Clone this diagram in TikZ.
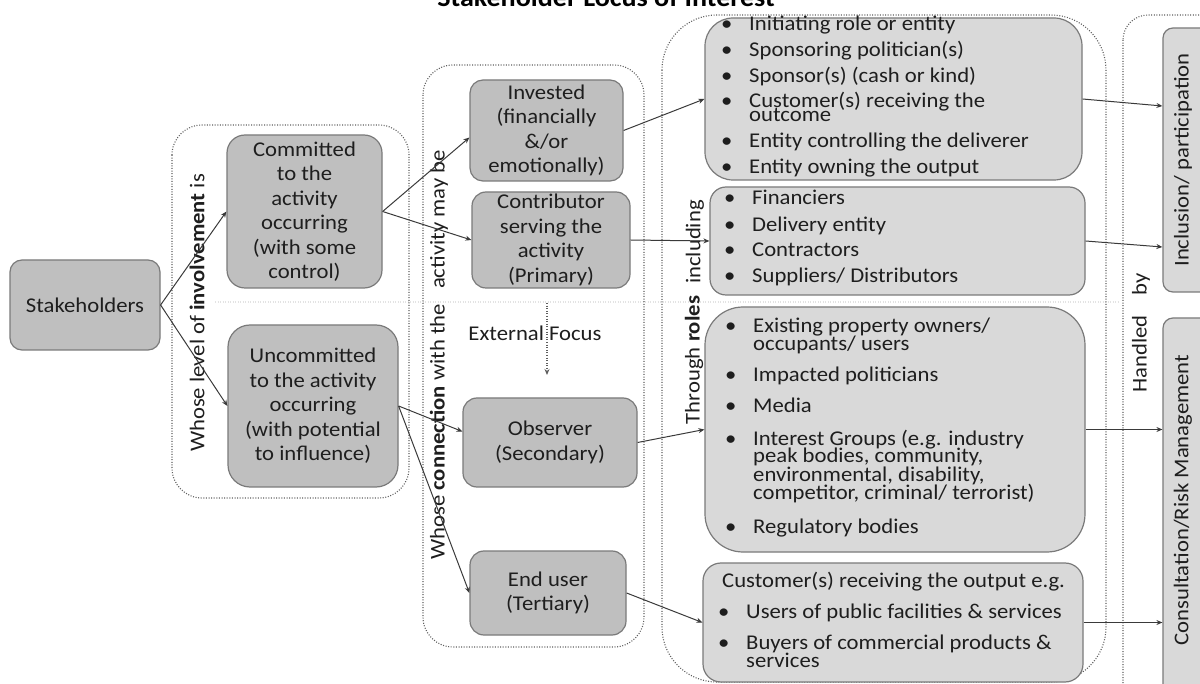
\documentclass[tikz,border=0pt]{standalone}
\usepackage{fontspec}
\setmainfont{Carlito}[FakeStretch=1.08]
\usetikzlibrary{arrows.meta,calc}
\definecolor{dboxfill}{HTML}{BFBFBF}
\definecolor{lboxfill}{HTML}{D9D9D9}
\definecolor{edgegray}{HTML}{7A7A7A}
\definecolor{txt}{HTML}{1E1E1E}
\definecolor{dotgray}{HTML}{5E5E5E}
\definecolor{linegray}{HTML}{3A3A3A}
\begin{document}
\begin{tikzpicture}[x=1pt,y=-1pt,
  every node/.style={font=\fontsize{21}{24.5}\selectfont, text=txt, inner sep=0pt},
  dbox/.style={draw=edgegray, fill=dboxfill, line width=1.2pt, rounded corners=#1, align=center},
  dbox/.default=14pt,
  lbox/.style={draw=edgegray, fill=lboxfill, line width=1.2pt, rounded corners=#1},
  lbox/.default=18pt,
  dotgroup/.style={draw=dotgray, line width=1.1pt, dash pattern=on 1pt off 1.6pt},
  conn/.style={draw=linegray, line width=1pt, -{Stealth[length=6pt,width=5pt]}},
  itm/.style={anchor=base west},
  vlabel/.style={rotate=90, anchor=center},
]
\useasboundingbox (0,0) rectangle (1200,684);

% title (cropped at top, as in the reference)
\node[font=\fontsize{26}{30}\selectfont\bfseries, text=black, anchor=base] (title) at (606,7) {Stakeholder Locus of Interest};

% faint guide line
\draw[gray!22, line width=1.3pt, dash pattern=on 1pt off 1.5pt] (215,302) -- (1120,302);

% dotted groups
\draw[dotgroup, rounded corners=30pt] (172,125) rectangle (409,498);
\draw[dotgroup, rounded corners=30pt] (423,65) rectangle (644,647);
\draw[dotgroup, rounded corners=55pt] (662,15) rectangle (1106,682);
\draw[dotgroup, rounded corners=25pt] (1123,15) rectangle (1240,720);

% group labels
\node[vlabel] (lvl) at (197,313) {Whose level of \textbf{involvement} is};
\node[vlabel] (cnx) at (439,355) {Whose \textbf{connection} with the\hspace{15pt}activity may be};
\node[vlabel] (incl) at (695,242) {including};
\node[vlabel] (thr) at (694,360) {Through \textbf{roles}};
\node[vlabel] (hby) at (1141,333) {Handled\hspace{20pt}by};

% left boxes
\node[dbox=12pt, minimum width=150pt, minimum height=90pt] (stake) at (85,305) {Stakeholders};
\node[dbox=18pt, minimum width=155pt, minimum height=153pt] (com) at (304.5,211.5) {Committed\\to the\\activity\\occurring\\(with some\\control)};
\node[dbox=22pt, minimum width=170pt, minimum height=162pt] (unc) at (313,406) {Uncommitted\\to the activity\\occurring\\(with potential\\to influence)};

% middle boxes
\node[dbox=13pt, minimum width=153pt, minimum height=101pt] (inv) at (546.5,130.5) {Invested\\(financially\\\&/or\\emotionally)};
\node[dbox=14pt, minimum width=158pt, minimum height=96pt] (ctb) at (551,240) {Contributor\\serving the\\activity\\(Primary)};
\node[dbox=14pt, minimum width=174pt, minimum height=89pt] (obs) at (550,442.5) {Observer\\(Secondary)};
\node[dbox=14pt, minimum width=156pt, minimum height=84pt] (end) at (548,593) {End user\\(Tertiary)};

% external focus
\coordinate (ef1) at (547,303);
\coordinate (ef2) at (547,375);
\draw[dotgroup, -{Stealth[length=6pt,width=5pt]}] (ef1) -- (ef2);
\node (ext) at (535,333) {External Focus};

% right list boxes
\node[lbox=28pt, minimum width=377pt, minimum height=162pt] (boxA) at (893.5,99) {};
\node[lbox=16pt, minimum width=375pt, minimum height=108pt] (boxB) at (897.5,241) {};
\node[lbox=38pt, minimum width=380pt, minimum height=245pt] (boxC) at (895,429.5) {};
\node[lbox=18pt, minimum width=380pt, minimum height=119pt] (boxD) at (893,622.5) {};

% far right boxes
\node[lbox=10pt, minimum width=52pt, minimum height=264pt] (inc) at (1189,160) {};
\node[lbox=10pt, minimum width=52pt, minimum height=392pt] (cons) at (1189,514) {};
\node[vlabel] (incT) at (1183,160) {Inclusion/ participation};
\node[vlabel] (consT) at (1183,500) {Consultation/Risk Management};

% list A
\node[itm] (a1) at (721,31) {\makebox[28pt][l]{\textbullet}Initiating role or entity};
\node[itm] (a2) at (721,57) {\makebox[28pt][l]{\textbullet}Sponsoring politician(s)};
\node[itm] (a3) at (721,83) {\makebox[28pt][l]{\textbullet}Sponsor(s) (cash or kind)};
\node[itm] (a4) at (721,108) {\makebox[28pt][l]{\textbullet}Customer(s) receiving the};
\node[itm] (a4b) at (749,122) {outcome};
\node[itm] (a5) at (721,148) {\makebox[28pt][l]{\textbullet}Entity controlling the deliverer};
\node[itm] (a6) at (721,174) {\makebox[28pt][l]{\textbullet}Entity owning the output};

% list B
\node[itm] (b1) at (724,205) {\makebox[28pt][l]{\textbullet}Financiers};
\node[itm] (b2) at (724,232) {\makebox[28pt][l]{\textbullet}Delivery entity};
\node[itm] (b3) at (724,257) {\makebox[28pt][l]{\textbullet}Contractors};
\node[itm] (b4) at (724,283) {\makebox[28pt][l]{\textbullet}Suppliers/ Distributors};

% list C
\node[itm] (c1) at (725,333) {\makebox[28pt][l]{\textbullet}Existing property owners/};
\node[itm] (c1b) at (753,351) {occupants/ users};
\node[itm] (c2) at (725,382) {\makebox[28pt][l]{\textbullet}Impacted politicians};
\node[itm] (c3) at (725,413) {\makebox[28pt][l]{\textbullet}Media};
\node[itm] (c4) at (725,446) {\makebox[28pt][l]{\textbullet}Interest Groups (e.g. industry};
\node[itm] (c4b) at (753,463) {peak bodies, community,};
\node[itm] (c4c) at (753,482) {environmental, disability,};
\node[itm] (c4d) at (753,500) {competitor, criminal/ terrorist)};
\node[itm] (c5) at (725,533) {\makebox[28pt][l]{\textbullet}Regulatory bodies};

% list D
\node[itm] (d0) at (722,587) {Customer(s) receiving the output e.g.};
\node[itm] (d1) at (718,618) {\makebox[28pt][l]{\textbullet}Users of public facilities \& services};
\node[itm] (d2) at (718,649) {\makebox[28pt][l]{\textbullet}Buyers of commercial products \&};
\node[itm] (d2b) at (746,667) {services};

% connectors
\draw[conn] (stake.east) -- (com.west);
\draw[conn] (stake.east) -- (unc.west);
\draw[conn] (com.east) -- ($(inv.west)+(0,7)$);
\draw[conn] (com.east) -- (ctb.west);
\draw[conn] (unc.east) -- ($(obs.west)+(0,-11)$);
\draw[conn] (unc.east) -- (end.west);
\draw[conn] (inv.east) -- (boxA.west);
\draw[conn] (ctb.east) -- (boxB.west);
\draw[conn] (obs.east) -- (boxC.west);
\draw[conn] (end.east) -- (boxD.west);
\draw[conn] (boxA.east) -- ($(boxA.east -| inc.west)+(0,7)$);
\draw[conn] (boxB.east) -- ($(boxB.east -| inc.west)+(0,6)$);
\draw[conn] (boxC.east) -- (boxC.east -| cons.west);
\draw[conn] (boxD.east) -- (boxD.east -| cons.west);
\end{tikzpicture}
\end{document}
